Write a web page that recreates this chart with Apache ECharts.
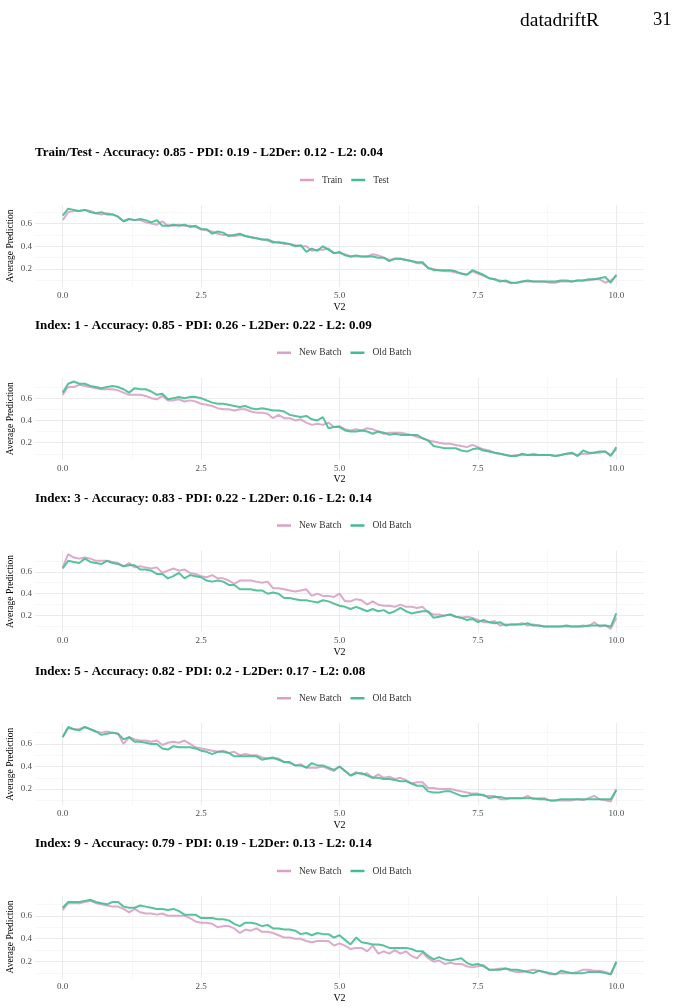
<!DOCTYPE html>
<html>
<head>
<meta charset="utf-8">
<script src="https://cdn.jsdelivr.net/npm/echarts@6/dist/echarts.min.js"></script>
<style>
  html, body { margin: 0; padding: 0; background: #fff; }
  #chart { width: 676px; height: 1007px; }
</style>
</head>
<body>
<div id="chart"></div>
<script>
// V2 grid values
const v2 = [
  0.0, 0.1, 0.2, 0.3, 0.4, 0.5, 0.6, 0.7, 0.8, 0.9,
  1.0, 1.1, 1.2, 1.3, 1.4, 1.5, 1.6, 1.7, 1.8, 1.9,
  2.0, 2.1, 2.2, 2.3, 2.4, 2.5, 2.6, 2.7, 2.8, 2.9,
  3.0, 3.1, 3.2, 3.3, 3.4, 3.5, 3.6, 3.7, 3.8, 3.9,
  4.0, 4.1, 4.2, 4.3, 4.4, 4.5, 4.6, 4.7, 4.8, 4.9,
  5.0, 5.1, 5.2, 5.3, 5.4, 5.5, 5.6, 5.7, 5.8, 5.9,
  6.0, 6.1, 6.2, 6.3, 6.4, 6.5, 6.6, 6.7, 6.8, 6.9,
  7.0, 7.1, 7.2, 7.3, 7.4, 7.5, 7.6, 7.7, 7.8, 7.9,
  8.0, 8.1, 8.2, 8.3, 8.4, 8.5, 8.6, 8.7, 8.8, 8.9,
  9.0, 9.1, 9.2, 9.3, 9.4, 9.5, 9.6, 9.7, 9.8, 9.9,
  10.0
];

const xTicks = [0, 2.5, 5, 7.5, 10];
const xMinor = [1.25, 3.75, 6.25, 8.75];
const yTicks = [0.2, 0.4, 0.6];
const yMinor = [0.1, 0.3, 0.5, 0.7];

const panelTitles = [
  'Train/Test - Accuracy: 0.85 - PDI: 0.19 - L2Der: 0.12 - L2: 0.04',
  'Index: 1 - Accuracy: 0.85 - PDI: 0.26 - L2Der: 0.22 - L2: 0.09',
  'Index: 3 - Accuracy: 0.83 - PDI: 0.22 - L2Der: 0.16 - L2: 0.14',
  'Index: 5 - Accuracy: 0.82 - PDI: 0.2 - L2Der: 0.17 - L2: 0.08',
  'Index: 9 - Accuracy: 0.79 - PDI: 0.19 - L2Der: 0.13 - L2: 0.14'
];
const legendNames = [
  ['Train', 'Test'],
  ['New Batch', 'Old Batch'],
  ['New Batch', 'Old Batch'],
  ['New Batch', 'Old Batch'],
  ['New Batch', 'Old Batch']
];

// panel 1
const train = [
  0.63, 0.70, 0.71, 0.71, 0.72, 0.71, 0.69, 0.68, 0.69, 0.68,
  0.66, 0.62, 0.64, 0.63, 0.63, 0.61, 0.60, 0.59, 0.62, 0.58,
  0.58, 0.59, 0.58, 0.58, 0.57, 0.55, 0.54, 0.53, 0.51, 0.50,
  0.50, 0.49, 0.50, 0.49, 0.48, 0.47, 0.46, 0.45, 0.43, 0.44,
  0.42, 0.42, 0.41, 0.40, 0.40, 0.36, 0.37, 0.37, 0.38, 0.34,
  0.34, 0.33, 0.31, 0.31, 0.31, 0.31, 0.33, 0.32, 0.30, 0.28,
  0.29, 0.29, 0.28, 0.27, 0.25, 0.25, 0.21, 0.20, 0.19, 0.18,
  0.18, 0.17, 0.16, 0.15, 0.18, 0.16, 0.14, 0.12, 0.11, 0.10,
  0.09, 0.075, 0.08, 0.09, 0.09, 0.09, 0.09, 0.09, 0.08, 0.08,
  0.09, 0.09, 0.09, 0.10, 0.10, 0.10, 0.11, 0.11, 0.08, 0.10,
  0.14
];
const test = [
  0.67, 0.73, 0.72, 0.71, 0.72, 0.70, 0.69, 0.70, 0.68, 0.68,
  0.66, 0.62, 0.64, 0.63, 0.64, 0.63, 0.61, 0.63, 0.58, 0.58,
  0.59, 0.58, 0.59, 0.57, 0.58, 0.55, 0.55, 0.51, 0.53, 0.52,
  0.49, 0.50, 0.51, 0.49, 0.48, 0.47, 0.46, 0.46, 0.44, 0.43,
  0.43, 0.42, 0.40, 0.41, 0.35, 0.38, 0.36, 0.40, 0.37, 0.34,
  0.35, 0.32, 0.31, 0.32, 0.31, 0.31, 0.31, 0.30, 0.30, 0.27,
  0.29, 0.29, 0.28, 0.27, 0.26, 0.26, 0.21, 0.19, 0.19, 0.19,
  0.19, 0.18, 0.16, 0.15, 0.19, 0.17, 0.15, 0.12, 0.11, 0.09,
  0.10, 0.08, 0.08, 0.09, 0.10, 0.09, 0.09, 0.09, 0.09, 0.09,
  0.10, 0.10, 0.09, 0.10, 0.10, 0.11, 0.11, 0.12, 0.13, 0.08,
  0.15
];

// panel 2 (index 1)
const newBatch1 = [
  0.63, 0.70, 0.70, 0.72, 0.71, 0.70, 0.69, 0.68, 0.68, 0.68,
  0.67, 0.65, 0.63, 0.63, 0.63, 0.62, 0.60, 0.59, 0.62, 0.58,
  0.58, 0.59, 0.57, 0.58, 0.57, 0.55, 0.54, 0.53, 0.51, 0.50,
  0.50, 0.49, 0.50, 0.50, 0.48, 0.47, 0.47, 0.46, 0.42, 0.45,
  0.42, 0.42, 0.40, 0.41, 0.38, 0.36, 0.37, 0.36, 0.38, 0.34,
  0.35, 0.32, 0.31, 0.32, 0.31, 0.33, 0.32, 0.30, 0.28, 0.29,
  0.29, 0.29, 0.28, 0.27, 0.25, 0.24, 0.22, 0.21, 0.20, 0.19,
  0.19, 0.18, 0.17, 0.16, 0.18, 0.16, 0.14, 0.13, 0.11, 0.10,
  0.09, 0.08, 0.09, 0.09, 0.09, 0.10, 0.09, 0.09, 0.09, 0.08,
  0.09, 0.10, 0.10, 0.09, 0.10, 0.10, 0.11, 0.11, 0.12, 0.09,
  0.14
];
const oldBatch1 = [
  0.65, 0.73, 0.75, 0.73, 0.73, 0.71, 0.70, 0.69, 0.70, 0.71,
  0.70, 0.68, 0.65, 0.69, 0.68, 0.68, 0.66, 0.63, 0.64, 0.59,
  0.60, 0.61, 0.60, 0.61, 0.61, 0.60, 0.58, 0.56, 0.55, 0.55,
  0.54, 0.53, 0.52, 0.53, 0.51, 0.50, 0.51, 0.50, 0.49, 0.49,
  0.48, 0.45, 0.44, 0.43, 0.44, 0.41, 0.40, 0.43, 0.33, 0.34,
  0.34, 0.31, 0.30, 0.30, 0.31, 0.30, 0.28, 0.30, 0.29, 0.27,
  0.28, 0.27, 0.27, 0.27, 0.27, 0.24, 0.22, 0.17, 0.16, 0.15,
  0.15, 0.15, 0.13, 0.12, 0.14, 0.15, 0.13, 0.12, 0.11, 0.10,
  0.09, 0.08, 0.08, 0.10, 0.09, 0.09, 0.09, 0.09, 0.09, 0.08,
  0.09, 0.10, 0.11, 0.08, 0.13, 0.11, 0.11, 0.12, 0.12, 0.08,
  0.16
];

// panel 3 (index 3)
const newBatch3 = [
  0.64, 0.76, 0.73, 0.72, 0.73, 0.72, 0.70, 0.70, 0.70, 0.69,
  0.68, 0.65, 0.68, 0.64, 0.65, 0.64, 0.63, 0.64, 0.59, 0.61,
  0.63, 0.61, 0.62, 0.59, 0.58, 0.56, 0.55, 0.57, 0.54, 0.54,
  0.52, 0.49, 0.52, 0.52, 0.52, 0.51, 0.50, 0.51, 0.45, 0.45,
  0.44, 0.43, 0.42, 0.43, 0.44, 0.38, 0.40, 0.38, 0.38, 0.37,
  0.40, 0.33, 0.33, 0.35, 0.34, 0.30, 0.33, 0.30, 0.29, 0.29,
  0.28, 0.30, 0.28, 0.28, 0.27, 0.28, 0.23, 0.21, 0.21, 0.20,
  0.21, 0.19, 0.18, 0.19, 0.18, 0.16, 0.14, 0.14, 0.15, 0.11,
  0.12, 0.12, 0.12, 0.13, 0.11, 0.12, 0.11, 0.10, 0.10, 0.10,
  0.10, 0.10, 0.10, 0.10, 0.11, 0.10, 0.14, 0.10, 0.11, 0.08,
  0.18
];
const oldBatch3 = [
  0.63, 0.70, 0.69, 0.68, 0.72, 0.69, 0.68, 0.67, 0.70, 0.68,
  0.67, 0.65, 0.66, 0.66, 0.62, 0.62, 0.61, 0.58, 0.58, 0.54,
  0.56, 0.59, 0.54, 0.57, 0.56, 0.55, 0.52, 0.51, 0.52, 0.51,
  0.48, 0.48, 0.44, 0.44, 0.44, 0.43, 0.43, 0.40, 0.41, 0.40,
  0.36, 0.36, 0.35, 0.34, 0.34, 0.33, 0.32, 0.34, 0.33, 0.31,
  0.29, 0.28, 0.26, 0.28, 0.26, 0.24, 0.26, 0.24, 0.25, 0.22,
  0.24, 0.27, 0.24, 0.22, 0.23, 0.24, 0.24, 0.18, 0.19, 0.20,
  0.21, 0.19, 0.18, 0.16, 0.17, 0.14, 0.16, 0.14, 0.13, 0.14,
  0.11, 0.12, 0.12, 0.12, 0.13, 0.11, 0.11, 0.10, 0.10, 0.10,
  0.10, 0.11, 0.10, 0.10, 0.10, 0.11, 0.11, 0.11, 0.11, 0.10,
  0.22
];

// panel 4 (index 5)
const newBatch5 = [
  0.66, 0.74, 0.73, 0.73, 0.75, 0.73, 0.71, 0.70, 0.71, 0.70,
  0.69, 0.60, 0.66, 0.64, 0.63, 0.63, 0.62, 0.63, 0.59, 0.61,
  0.62, 0.61, 0.63, 0.60, 0.57, 0.56, 0.55, 0.54, 0.53, 0.54,
  0.52, 0.53, 0.50, 0.51, 0.50, 0.50, 0.48, 0.47, 0.47, 0.47,
  0.44, 0.43, 0.41, 0.42, 0.39, 0.39, 0.39, 0.40, 0.38, 0.36,
  0.40, 0.36, 0.32, 0.35, 0.33, 0.34, 0.30, 0.33, 0.30, 0.31,
  0.29, 0.30, 0.28, 0.25, 0.26, 0.26, 0.21, 0.21, 0.20, 0.20,
  0.20, 0.19, 0.18, 0.17, 0.16, 0.16, 0.14, 0.14, 0.14, 0.11,
  0.11, 0.12, 0.12, 0.12, 0.14, 0.11, 0.12, 0.12, 0.10, 0.10,
  0.10, 0.10, 0.10, 0.11, 0.10, 0.12, 0.14, 0.11, 0.10, 0.09,
  0.20
];
const oldBatch5 = [
  0.66, 0.75, 0.73, 0.72, 0.75, 0.73, 0.71, 0.68, 0.69, 0.70,
  0.69, 0.64, 0.66, 0.62, 0.62, 0.61, 0.60, 0.60, 0.56, 0.55,
  0.58, 0.57, 0.57, 0.57, 0.56, 0.54, 0.53, 0.51, 0.53, 0.53,
  0.52, 0.49, 0.49, 0.49, 0.49, 0.49, 0.46, 0.47, 0.48, 0.46,
  0.44, 0.44, 0.41, 0.41, 0.39, 0.43, 0.41, 0.41, 0.39, 0.37,
  0.40, 0.36, 0.32, 0.34, 0.34, 0.32, 0.30, 0.30, 0.29, 0.29,
  0.28, 0.27, 0.27, 0.25, 0.23, 0.23, 0.18, 0.17, 0.17, 0.18,
  0.18, 0.16, 0.14, 0.14, 0.15, 0.15, 0.15, 0.12, 0.13, 0.13,
  0.12, 0.12, 0.12, 0.12, 0.12, 0.12, 0.11, 0.11, 0.10, 0.10,
  0.11, 0.11, 0.11, 0.11, 0.11, 0.11, 0.11, 0.11, 0.11, 0.11,
  0.19
];

// panel 5 (index 9)
const newBatch9 = [
  0.65, 0.71, 0.71, 0.71, 0.72, 0.73, 0.71, 0.70, 0.69, 0.68,
  0.68, 0.66, 0.63, 0.66, 0.63, 0.62, 0.62, 0.61, 0.62, 0.60,
  0.60, 0.60, 0.60, 0.58, 0.55, 0.54, 0.54, 0.53, 0.50, 0.51,
  0.51, 0.49, 0.45, 0.48, 0.47, 0.49, 0.46, 0.46, 0.45, 0.43,
  0.41, 0.41, 0.40, 0.40, 0.38, 0.37, 0.38, 0.38, 0.38, 0.34,
  0.36, 0.34, 0.31, 0.32, 0.32, 0.29, 0.34, 0.27, 0.29, 0.27,
  0.30, 0.27, 0.29, 0.25, 0.23, 0.28, 0.23, 0.20, 0.21, 0.18,
  0.19, 0.18, 0.18, 0.16, 0.15, 0.16, 0.17, 0.13, 0.13, 0.14,
  0.14, 0.12, 0.11, 0.11, 0.12, 0.13, 0.12, 0.11, 0.09, 0.09,
  0.10, 0.10, 0.10, 0.11, 0.13, 0.13, 0.12, 0.12, 0.11, 0.09,
  0.19
];
const oldBatch9 = [
  0.67, 0.72, 0.72, 0.72, 0.73, 0.74, 0.72, 0.71, 0.70, 0.72,
  0.72, 0.68, 0.67, 0.67, 0.69, 0.68, 0.67, 0.66, 0.66, 0.65,
  0.66, 0.64, 0.61, 0.61, 0.61, 0.58, 0.58, 0.58, 0.57, 0.57,
  0.56, 0.53, 0.51, 0.54, 0.54, 0.53, 0.51, 0.52, 0.49, 0.49,
  0.48, 0.48, 0.47, 0.44, 0.45, 0.43, 0.45, 0.44, 0.44, 0.41,
  0.43, 0.39, 0.35, 0.41, 0.37, 0.36, 0.35, 0.35, 0.34, 0.32,
  0.32, 0.32, 0.32, 0.31, 0.29, 0.29, 0.25, 0.22, 0.24, 0.22,
  0.21, 0.22, 0.23, 0.19, 0.17, 0.18, 0.16, 0.13, 0.13, 0.13,
  0.14, 0.13, 0.13, 0.12, 0.11, 0.10, 0.12, 0.11, 0.10, 0.09,
  0.12, 0.11, 0.10, 0.10, 0.10, 0.11, 0.11, 0.11, 0.10, 0.09,
  0.20
];

const panelSeries = [
  [train, test],
  [newBatch1, oldBatch1],
  [newBatch3, oldBatch3],
  [newBatch5, oldBatch5],
  [newBatch9, oldBatch9]
];

const PINK = '#dca0c6';
const GREEN = '#44bc92';
const SERIF = '"Liberation Serif", "DejaVu Serif", serif';
const STEP = 172.75;
const GRID_TOP = 205;
const GRID_H = 82;

const chart = echarts.init(document.getElementById('chart'), null, { renderer: 'canvas' });

const titles = [
  { text: 'datadriftR', left: 520, top: 11, padding: 0, textStyle: { fontFamily: SERIF, fontWeight: 'normal', fontSize: 19.5, color: '#000' } },
  { text: '31', left: 653, top: 11, padding: 0, textStyle: { fontFamily: SERIF, fontWeight: 'normal', fontSize: 18.5, color: '#000' } }
];
const grids = [];
const xAxes = [];
const yAxes = [];
const legends = [];
const series = [];

panelTitles.forEach((t, k) => {
  const top = GRID_TOP + k * STEP;
  titles.push({
    text: t, left: 35, top: top - 58.5, padding: 0,
    textStyle: { fontFamily: SERIF, fontWeight: 'bold', fontSize: 13, color: '#000' }
  });
  grids.push({ left: 35, right: 32, top: top, height: GRID_H, containLabel: false, outerBoundsMode: 'none' });

  // ggplot-like range: data extent + 5% on each side
  const vals = panelSeries[k][0].concat(panelSeries[k][1]);
  const lo = Math.min.apply(null, vals), hi = Math.max.apply(null, vals);
  const pad = (hi - lo) * 0.05;
  const yMin = lo - pad, yMax = hi + pad;

  // major x axis (labels + major grid)
  xAxes.push({
    type: 'value', gridIndex: k, min: -0.5, max: 10.5,
    name: 'V2', nameLocation: 'middle', nameGap: 15,
    nameTextStyle: { fontFamily: SERIF, fontSize: 10, color: '#000' },
    axisLine: { show: false },
    axisTick: { show: false, customValues: xTicks },
    axisLabel: {
      customValues: xTicks, margin: 4, fontFamily: SERIF, fontSize: 9, color: '#4d4d4d',
      formatter: v => v.toFixed(1)
    },
    splitLine: { show: true, lineStyle: { color: '#ebebeb', width: 1.1 } }
  });
  // minor x grid
  xAxes.push({
    type: 'value', gridIndex: k, min: -0.5, max: 10.5,
    axisLine: { show: false },
    axisTick: { show: false, customValues: xMinor },
    axisLabel: { show: false },
    splitLine: { show: true, lineStyle: { color: '#f3f3f3', width: 0.7 } }
  });
  yAxes.push({
    type: 'value', gridIndex: k, min: yMin, max: yMax,
    name: 'Average Prediction', nameLocation: 'middle', nameGap: 20, nameMoveOverlap: false,
    nameTextStyle: { fontFamily: SERIF, fontSize: 9.5, color: '#000' },
    axisLine: { show: false },
    axisTick: { show: false, customValues: yTicks },
    axisLabel: {
      customValues: yTicks, margin: 3, fontFamily: SERIF, fontSize: 9, color: '#4d4d4d',
      formatter: v => v.toFixed(1)
    },
    splitLine: { show: true, lineStyle: { color: '#ebebeb', width: 1.1 } }
  });
  yAxes.push({
    type: 'value', gridIndex: k, min: yMin, max: yMax,
    axisLine: { show: false },
    axisTick: { show: false, customValues: yMinor },
    axisLabel: { show: false },
    splitLine: { show: true, lineStyle: { color: '#f3f3f3', width: 0.7 } }
  });

  const names = legendNames[k];
  legends.push({
    data: names, top: top - 30, left: k === 0 ? 300 : 277, padding: 0,
    icon: 'rect', itemWidth: 14, itemHeight: 2.5, itemGap: 9,
    textStyle: { fontFamily: SERIF, fontSize: 9.5, color: '#333', padding: [0, 0, 0, 3] }
  });

  [PINK, GREEN].forEach((c, j) => {
    series.push({
      type: 'line', name: names[j],
      xAxisIndex: 2 * k, yAxisIndex: 2 * k,
      data: v2.map((x, i) => [x, panelSeries[k][j][i]]),
      showSymbol: false, symbol: 'none', animation: false,
      color: c,
      lineStyle: { color: c, width: 2, opacity: 0.9 },
      z: 2 + j
    });
  });
});

chart.setOption({
  animation: false,
  backgroundColor: '#fff',
  title: titles,
  grid: grids,
  xAxis: xAxes,
  yAxis: yAxes,
  legend: legends,
  series: series
});
</script>
</body>
</html>
